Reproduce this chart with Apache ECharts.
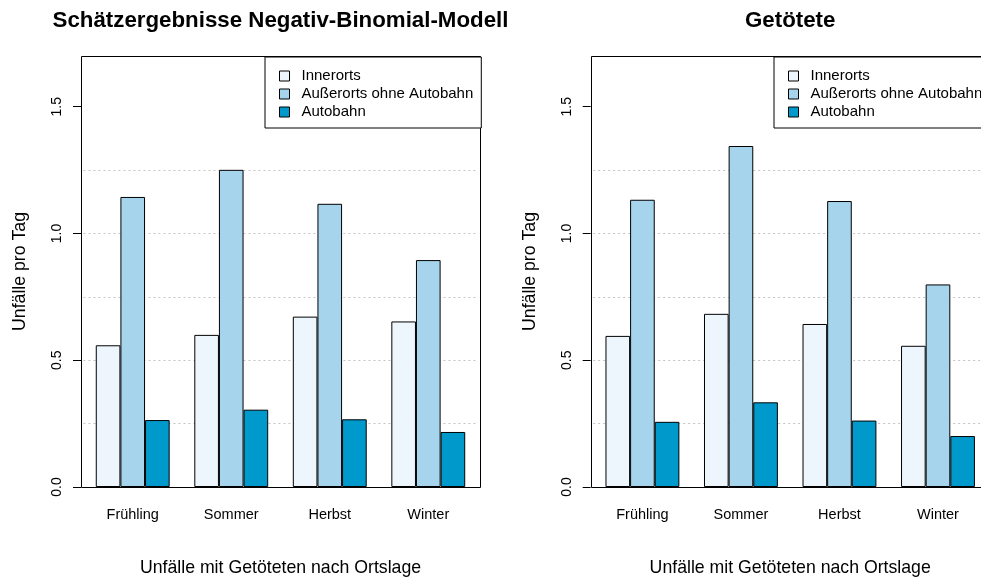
<!DOCTYPE html>
<html><head><meta charset="utf-8">
<script src="https://cdn.jsdelivr.net/npm/echarts@6/dist/echarts.min.js"></script>
<style>html,body{margin:0;padding:0;background:#fff}#c{width:981px;height:579px}</style>
</head><body><div id="c"></div>
<script>
const categories = ['Frühling', 'Sommer', 'Herbst', 'Winter'];
const seriesNames = ['Innerorts', 'Außerorts ohne Autobahn', 'Autobahn'];
const seriesColors = ['#EEF6FD', '#A6D4EC', '#0099CC'];
const modelInner = [0.559, 0.600, 0.672, 0.653];
const modelAusser = [1.144, 1.251, 1.117, 0.895];
const modelAutobahn = [0.264, 0.305, 0.267, 0.217];
const killedInner = [0.596, 0.683, 0.643, 0.557];
const killedAusser = [1.133, 1.345, 1.128, 0.799];
const killedAutobahn = [0.257, 0.334, 0.262, 0.201];
const yTickLabels = [0, 0.5, 1.0, 1.5];
const gridLevels = [0.25, 0.5, 0.75, 1.0, 1.25];
const titles = ['Schätzergebnisse Negativ-Binomial-Modell', 'Getötete'];
const yTitle = 'Unfälle pro Tag';
const xTitle = 'Unfälle mit Getöteten nach Ortslage';

const FONT = "'Liberation Sans', Arial, Helvetica, sans-serif";
const unit = 24.63;
const boxTop = 56, boxBottom = 487;
const boxWidth = 16.2 * unit;
const panels = [
  { boxLeft: 81, legendLeft: 265, data: [modelInner, modelAusser, modelAutobahn] },
  { boxLeft: 590.7, legendLeft: 774, data: [killedInner, killedAusser, killedAutobahn] }
];

const grid = [], xAxis = [], yAxis = [], series = [], legend = [], title = [], graphic = [];
panels.forEach((p, i) => {
  grid.push({ left: p.boxLeft + 0.1 * unit, width: 16 * unit, top: boxTop, height: boxBottom - boxTop,
    outerBoundsMode: 'none', containLabel: false });
  xAxis.push({
    type: 'category', gridIndex: i, data: categories,
    axisLine: { show: false }, axisTick: { show: false },
    axisLabel: { margin: 20, fontSize: 14.5, color: '#000', fontFamily: FONT },
    name: xTitle, nameLocation: 'middle', nameGap: 72,
    nameTextStyle: { fontSize: 17.7, color: '#000', fontFamily: FONT }
  });
  yAxis.push({
    type: 'value', gridIndex: i, min: 0, max: 1.7, offset: 0.1 * unit, position: 'left',
    axisLine: { show: false }, splitLine: { show: false },
    axisTick: { show: true, length: 8, customValues: yTickLabels, lineStyle: { color: '#000' } },
    axisLabel: { customValues: yTickLabels, rotate: 90, margin: 17, fontSize: 14, color: '#000', fontFamily: FONT,
      formatter: v => v.toFixed(1) },
    name: yTitle, nameLocation: 'middle', nameGap: 52,
    nameTextStyle: { fontSize: 17.7, color: '#000', fontFamily: FONT }
  });
  p.data.forEach((vals, k) => {
    const s = {
      type: 'bar', name: seriesNames[k], xAxisIndex: i, yAxisIndex: i, data: vals,
      barGap: '0%', barCategoryGap: '25%',
      itemStyle: { color: seriesColors[k], borderColor: '#000', borderWidth: 1 },
      z: 3
    };
    if (k === 0) {
      s.markLine = {
        silent: true, symbol: ['none', 'none'], z: 1, label: { show: false },
        lineStyle: { color: '#C4C4C4', width: 1, type: [2, 3] },
        emphasis: { disabled: true },
        data: gridLevels.map(v => ({ yAxis: v }))
      };
    }
    series.push(s);
  });
  legend.push({
    orient: 'vertical', left: p.legendLeft, top: 57, padding: [10, 8, 7, 14], itemGap: 0,
    itemWidth: 10, itemHeight: 10, icon: 'rect',
    borderColor: '#000', borderWidth: 1, backgroundColor: '#fff', borderRadius: 0,
    itemStyle: { borderColor: '#000', borderWidth: 1 },
    textStyle: { fontSize: 15, lineHeight: 18, color: '#000', fontFamily: FONT, padding: [0, 0, 0, 7] },
    data: seriesNames, selectedMode: false, z: 10
  });
  title.push({
    text: titles[i], left: p.boxLeft + boxWidth / 2, top: 10, textAlign: 'center', padding: 0,
    textStyle: { fontSize: 22.3, fontWeight: 'bold', color: '#000', fontFamily: FONT }
  });
  graphic.push({
    type: 'rect', z: 5, silent: true,
    shape: { x: Math.round(p.boxLeft) + 0.5, y: boxTop + 0.5, width: Math.round(boxWidth), height: boxBottom - boxTop },
    style: { fill: 'none', stroke: '#000', lineWidth: 1 }
  });
});

const chart = echarts.init(document.getElementById('c'), null, { renderer: 'canvas' });
chart.setOption({
  animation: false, backgroundColor: '#fff',
  title, grid, xAxis, yAxis, series, legend, graphic
});
</script></body></html>
